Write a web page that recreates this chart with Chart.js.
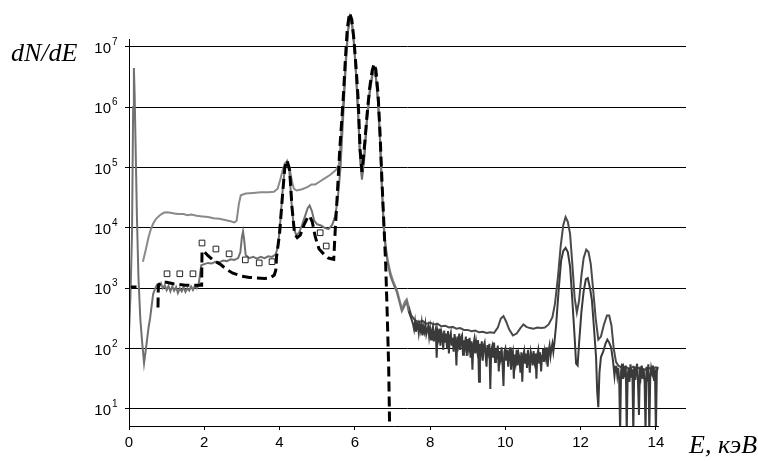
<!DOCTYPE html>
<html><head><meta charset="utf-8">
<script src="https://cdn.jsdelivr.net/npm/chart.js@4.4.1/dist/chart.umd.min.js"></script>
<style>html,body{margin:0;padding:0;background:#fff}#wrap{position:relative;width:758px;height:461px}</style>
</head><body><div id="wrap"><canvas id="c"></canvas></div>
<script>
// Tick labels
const xTickValues = [0, 2, 4, 6, 8, 10, 12, 14];
const yDecadeExponents = [1, 2, 3, 4, 5, 6, 7];

// Upper grey spectrum: energy (keV) and log10(dN/dE)
const upperE = [
  0.37,0.45,0.52,0.58,0.65,0.72,0.82,0.92,1.0,1.1,
  1.2,1.3,1.45,1.55,1.65,1.8,1.95,2.1,2.25,2.4,
  2.55,2.7,2.8,2.86,2.92,2.97,3.1,3.3,3.5,3.7,
  3.85,3.95,4.02,4.08,4.14,4.2,4.26,4.32,4.38,4.45,
  4.6,4.75,4.85,4.95,5.05,5.2,5.35,5.5,5.58,5.64,
  5.7,5.76,5.82,5.87,5.93,5.99,6.04,6.09,6.14,6.19,
  6.25,6.32,6.39,6.46,6.51,6.56,6.62,6.67,6.72,6.77,
  6.82,6.88,6.95,7.02,7.12,7.25,7.33,7.38,7.43,7.5,
  7.6,7.7,7.8,7.9,8.0,8.1,8.2,8.3,8.4,8.5,
  8.6,8.7,8.8,8.9,9.0,9.1,9.2,9.3,9.4,9.5,
  9.6,9.7,9.8,9.88,9.95,10.02,10.1,10.2,10.3,10.4,
  10.48,10.56,10.65,10.75,10.85,10.95,11.05,11.15,11.25,11.32,
  11.4,11.47,11.54,11.6,11.66,11.72,11.78,11.84,11.9,11.96,
  12.02,12.08,12.15,12.21,12.27,12.33,12.4,12.47,12.54,12.62,
  12.7,12.76,12.82,12.88,12.94,13.0,13.1,13.2,13.3,13.4,
  13.5,13.6,13.7,13.8,13.9,14.0,14.05];
const upperLog = [
  3.44,3.65,3.85,3.98,4.08,4.15,4.21,4.25,4.26,4.25,
  4.24,4.23,4.23,4.21,4.22,4.20,4.19,4.18,4.16,4.15,
  4.13,4.11,4.09,4.12,4.40,4.54,4.57,4.58,4.59,4.59,
  4.60,4.65,4.80,4.95,5.07,5.10,5.02,4.80,4.65,4.62,
  4.64,4.68,4.72,4.72,4.76,4.82,4.88,4.96,5.05,5.6,
  6.15,6.8,7.3,7.5,7.38,7.0,6.5,5.9,5.2,4.85,
  5.2,5.8,6.25,6.55,6.63,6.52,6.1,5.5,4.7,4.05,
  3.7,3.45,3.25,3.12,2.97,2.66,2.78,2.82,2.7,2.55,
  2.47,2.44,2.46,2.41,2.43,2.40,2.41,2.37,2.38,2.35,
  2.36,2.33,2.34,2.31,2.31,2.29,2.30,2.27,2.28,2.26,
  2.27,2.26,2.35,2.50,2.54,2.45,2.32,2.22,2.25,2.34,
  2.40,2.36,2.34,2.33,2.35,2.34,2.35,2.40,2.52,2.75,
  3.2,3.7,4.05,4.18,4.1,3.9,3.4,2.85,2.6,2.8,
  3.2,3.5,3.64,3.6,3.4,3.0,2.5,2.15,2.2,2.4,
  2.55,2.55,2.38,2.0,1.78,1.72,1.68,1.70,1.66,1.70,
  1.67,1.69,1.65,1.68,1.66,1.69,1.65];

// Lower grey spectrum, smooth parts (energy, log10 value)
const lowerE = [
  0.0,0.04,0.08,0.11,0.13,0.15,0.18,0.21,0.25,0.3,
  0.35,0.4,0.44,0.48,0.52,0.56,0.6,0.64,0.7,0.75,
  0.8,0.85,0.9,0.95,1.0,1.05,1.1,1.15,1.2,1.25,
  1.3,1.35,1.4,1.45,1.5,1.55,1.6,1.65,1.7,1.75,
  1.8,1.85,1.88,1.92,2.0,2.1,2.2,2.3,2.4,2.5,
  2.6,2.7,2.8,2.9,2.96,3.0,3.03,3.06,3.1,3.2,
  3.3,3.4,3.5,3.6,3.7,3.8,3.9,3.96,4.02,4.08,
  4.14,4.2,4.26,4.32,4.38,4.44,4.52,4.6,4.68,4.75,
  4.8,4.86,4.92,5.0,5.1,5.2,5.3,5.4,5.48,5.55,
  5.62,5.7,5.76,5.82,5.87,5.93,5.99,6.04,6.09,6.14,
  6.19,6.25,6.32,6.39,6.46,6.51,6.56,6.62,6.67,6.72,
  6.77,6.82,6.88,6.95,7.02,7.12,7.25,7.33,7.38,7.43,
  7.5];
const lowerLog = [
  2.25,2.9,3.9,6.0,6.65,6.2,5.2,4.2,3.2,2.5,
  2.1,1.76,1.95,2.15,2.35,2.5,2.7,2.9,3.0,3.06,
  3.02,3.08,3.0,3.05,2.97,3.04,2.95,3.03,2.96,3.02,
  2.92,3.0,2.95,3.02,2.94,3.0,2.96,3.03,2.97,3.04,
  3.0,3.05,3.2,3.38,3.40,3.42,3.41,3.44,3.43,3.46,
  3.45,3.48,3.47,3.5,3.6,3.85,3.94,3.8,3.55,3.5,
  3.52,3.49,3.52,3.50,3.53,3.52,3.56,3.7,4.1,4.6,
  5.0,5.1,4.95,4.4,4.0,3.88,3.92,4.05,4.2,4.33,
  4.37,4.28,4.12,4.06,4.04,4.0,3.98,4.05,4.2,4.5,
  5.0,5.95,6.7,7.25,7.47,7.35,6.95,6.45,5.85,5.15,
  4.8,5.15,5.75,6.2,6.5,6.6,6.48,6.05,5.45,4.65,
  4.0,3.65,3.4,3.2,3.08,2.93,2.62,2.72,2.78,2.62,
  2.5];

// Lower spectrum, noisy band 7.55–11.275 keV, sampled every 0.025 keV
const bandStartE = 7.55, bandStepE = 0.025;
const bandLog = [
  2.40,2.32,2.44,2.28,2.36,2.41,2.26,2.38,2.30,2.42,
  2.22,2.35,2.28,2.40,2.24,2.31,2.37,2.20,2.33,2.15,
  2.30,2.36,2.12,2.25,2.32,1.85,2.27,2.18,2.33,2.05,
  2.28,2.22,1.98,2.30,2.10,2.25,2.02,2.29,1.92,2.20,
  2.26,2.05,2.18,1.95,2.24,2.12,1.72,2.20,2.08,2.25,
  1.98,2.18,2.22,1.90,2.14,2.05,2.20,1.88,2.16,2.02,
  2.18,1.85,2.12,1.65,2.06,2.15,1.92,2.10,1.98,2.14,
  1.45,2.08,1.95,2.12,1.80,2.05,2.10,1.90,1.70,2.06,
  1.95,2.08,1.33,1.98,2.04,1.85,2.10,1.78,2.00,1.92,
  2.05,1.62,1.96,1.85,2.02,1.75,1.38,1.95,2.00,1.80,
  1.98,1.70,1.92,2.02,1.65,1.88,1.95,1.50,1.90,1.78,
  1.98,1.72,1.92,1.85,1.60,1.94,1.45,1.88,1.96,1.75,
  1.92,1.68,1.98,1.82,1.60,1.95,1.88,1.72,1.96,1.80,
  1.92,1.50,1.90,1.98,1.75,1.94,1.62,1.88,2.00,1.78,
  1.95,1.85,2.02,1.70,1.96,2.05,1.88,2.00,2.08,1.95];

// Lower spectrum, Fe/K-line peaks region 11.3–12.925 keV
const peaksE = [
  11.3,11.35,11.42,11.48,11.54,11.6,11.66,11.72,11.78,11.84,
  11.88,11.92,11.96,12.02,12.08,12.14,12.19,12.25,12.3,12.36,
  12.41,12.44,12.47,12.5,12.54,12.6,12.66,12.71,12.76,12.81,
  12.86,12.9,12.925];
const peaksLog = [
  2.08,2.40,3.0,3.45,3.62,3.67,3.6,3.36,2.8,2.2,
  1.75,1.72,2.1,2.6,2.95,3.15,3.17,3.0,2.8,2.3,
  1.86,1.3,1.03,1.6,1.86,1.95,2.08,2.15,2.1,2.02,
  1.8,1.55,1.70];

// Lower spectrum, noisy tail 12.95–14.05 keV, sampled every 0.025 keV
const tailStartE = 12.95, tailStepE = 0.025;
const tailLog = [
  1.70,1.55,1.68,1.48,0.6,1.62,1.75,1.50,1.66,1.58,
  1.72,0.6,1.55,1.68,1.45,1.74,1.52,1.66,0.6,1.70,
  1.48,1.64,1.75,1.42,0.9,1.68,1.55,1.72,1.50,1.66,
  1.45,0.6,1.70,1.58,1.74,0.6,1.52,1.68,1.60,1.72,
  1.48,1.66,0.6,1.62,1.70];

// Dashed calculated spectrum (null = break)
const calcE = [
  0.05,0.2,0.5,0.77,0.78,0.85,1.0,1.2,1.5,1.93,
  1.94,1.98,2.1,2.25,2.42,2.6,2.76,3.0,3.2,3.4,
  3.6,3.75,3.86,3.9,3.92,4.0,4.08,4.14,4.2,4.27,
  4.33,4.4,4.47,4.55,4.65,4.75,4.8,4.87,4.95,5.05,
  5.2,5.3,5.44,5.48,5.53,5.6,5.69,5.75,5.8,5.86,
  5.92,5.98,6.04,6.09,6.14,6.19,6.25,6.32,6.39,6.46,
  6.51,6.56,6.62,6.67,6.72,6.77,6.82,6.86,6.9,6.93];
const calcLog = [
  3.02,3.02,null,2.68,3.05,3.1,3.1,3.07,3.05,3.05,
  3.62,3.62,3.54,3.46,3.40,3.31,3.25,3.2,3.18,3.17,
  3.16,3.17,3.22,3.3,3.52,3.9,4.55,5.0,5.12,4.95,
  4.35,3.9,3.84,3.88,4.05,4.18,4.2,4.1,3.85,3.65,
  3.55,3.5,3.48,3.97,4.5,5.3,6.12,6.8,7.3,7.56,
  7.45,7.1,6.6,6.12,5.3,4.93,5.3,5.84,6.3,6.6,
  6.72,6.62,6.2,5.57,4.8,4.1,3.4,2.6,1.7,0.5];

// Open squares (measured points)
const squareE = [1.01,1.35,1.7,1.94,2.31,2.66,3.09,3.46,3.8,5.08,5.24];
const squareLog = [3.24,3.24,3.24,3.75,3.65,3.57,3.47,3.42,3.44,3.92,3.70];

const toPts = (xs, ls) => xs.map((x, i) => ({x: x, y: ls[i] === null ? null : Math.pow(10, ls[i])}));
const gridPts = (start, step, ls) => ls.map((l, i) => ({x: +(start + i * step).toFixed(3), y: Math.pow(10, l)}));

const lowerPts = toPts(lowerE, lowerLog)
  .concat(gridPts(bandStartE, bandStepE, bandLog))
  .concat(toPts(peaksE, peaksLog))
  .concat(gridPts(tailStartE, tailStepE, tailLog));

const Y_MIN_EXP = 0.718, Y_MAX_EXP = 7.61, Y_AXIS_TOP_EXP = 7.13, X_AXIS_END = 14.08;

const overlay = {
  id: 'overlay',
  afterDraw(chart) {
    const ctx = chart.ctx, xs = chart.scales.x, ys = chart.scales.y;
    const left = xs.getPixelForValue(0), bottom = ys.getPixelForValue(Math.pow(10, Y_MIN_EXP));
    ctx.save();
    ctx.strokeStyle = '#000'; ctx.lineWidth = 1;
    ctx.beginPath();
    ctx.moveTo(left + 0.5, ys.getPixelForValue(Math.pow(10, Y_AXIS_TOP_EXP)));
    ctx.lineTo(left + 0.5, bottom + 0.5);
    ctx.lineTo(xs.getPixelForValue(X_AXIS_END), bottom + 0.5);
    ctx.stroke();
    ctx.fillStyle = '#000';
    yDecadeExponents.forEach(k => {
      const y = ys.getPixelForValue(Math.pow(10, k));
      ctx.font = '15px "Liberation Sans", Arial, sans-serif';
      ctx.textAlign = 'right'; ctx.textBaseline = 'alphabetic';
      ctx.fillText('10', 111, y + 6);
      ctx.font = '10px "Liberation Sans", Arial, sans-serif';
      ctx.textAlign = 'left';
      ctx.fillText(String(k), 112, y - 2);
    });
    ctx.font = 'italic 26px "Liberation Serif", "Times New Roman", serif';
    ctx.textAlign = 'left';
    ctx.fillText('dN/dE', 11, 61);
    ctx.fillText('E, кэВ', 689, 453);
    ctx.restore();
  }
};

const greyLeft = '#8a8a8a', greyRight = '#4a4a4a', darkLeft = '#707070', darkRight = '#3a3a3a';

new Chart(document.getElementById('c'), {
  type: 'line',
  data: {
    datasets: [
      {label: 'squares', data: toPts(squareE, squareLog), showLine: false, pointStyle: 'rect',
       pointRadius: 4, backgroundColor: '#fff', borderColor: '#222', borderWidth: 1, order: 0},
      {label: 'calc', data: toPts(calcE, calcLog), borderColor: '#000', borderWidth: 3,
       borderDash: [10, 5], pointRadius: 0, spanGaps: false, order: 1, tension: 0},
      {label: 'lower', data: lowerPts, borderWidth: 2, pointRadius: 0, order: 2,
       borderColor: darkLeft,
       segment: {borderColor: c => c.p0.parsed.x >= 7.4 ? darkRight : darkLeft}},
      {label: 'upper', data: toPts(upperE, upperLog), borderWidth: 2, pointRadius: 0, order: 3,
       borderColor: greyLeft,
       segment: {borderColor: c => c.p0.parsed.x >= 7.4 ? greyRight : greyLeft}}
    ]
  },
  options: {
    responsive: true, maintainAspectRatio: false, animation: false,
    layout: {padding: {top: 10, right: 72, left: 0, bottom: 0}},
    plugins: {legend: {display: false}, tooltip: {enabled: false}},
    scales: {
      x: {
        type: 'linear', min: 0, max: 14.8,
        afterFit: s => { s.height = 35; },
        afterBuildTicks: s => { s.ticks = xTickValues.map(v => ({value: v})); },
        border: {display: false},
        grid: {drawOnChartArea: false, drawTicks: true, tickLength: 4, color: '#000'},
        ticks: {color: '#000', padding: 4, font: {family: '"Liberation Sans", Arial, sans-serif', size: 15},
                maxRotation: 0, autoSkip: false}
      },
      y: {
        type: 'logarithmic', min: Math.pow(10, Y_MIN_EXP), max: Math.pow(10, Y_MAX_EXP),
        afterFit: s => { s.width = 129; },
        afterBuildTicks: s => { s.ticks = yDecadeExponents.map(k => ({value: Math.pow(10, k)})); },
        border: {display: false},
        grid: {color: '#000', lineWidth: 1, drawTicks: true, tickLength: 4},
        ticks: {display: false}
      }
    }
  },
  plugins: [overlay]
});
</script></body></html>
